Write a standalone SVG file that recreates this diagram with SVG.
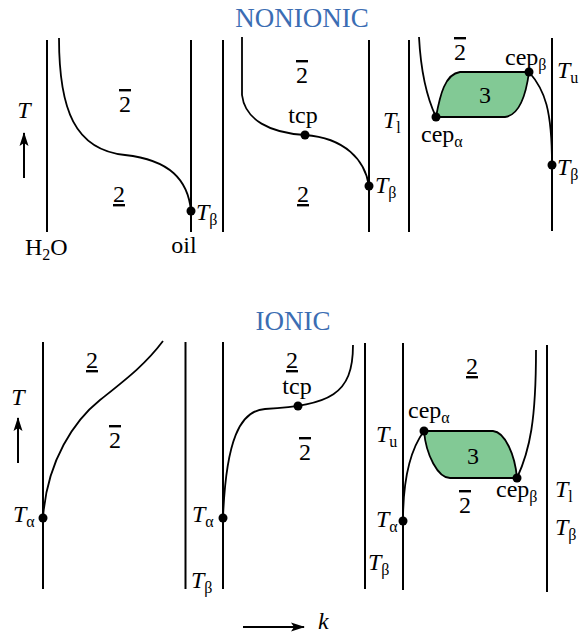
<svg xmlns="http://www.w3.org/2000/svg" width="580" height="634" viewBox="0 0 580 634">
<defs>
<marker id="ah" markerUnits="userSpaceOnUse" markerWidth="14" markerHeight="10" viewBox="0 0 14 10" refX="13" refY="5" orient="auto">
<path d="M0,0.5 L14,5 L0,9.5 L3,5 Z" fill="#000"/>
</marker>
</defs>
<style>
.ax{stroke:#000;stroke-width:2;fill:none}
.cv{stroke:#000;stroke-width:1.8;fill:none}
.ph{fill:#82c995;stroke:#000;stroke-width:1.8}
.dot{fill:#000}
text{font-size:24px;fill:#000}
.it{font-style:italic}
.sb{font-style:normal;font-size:16px}
.mid{text-anchor:middle}
.ov{text-decoration:overline}
.un{text-decoration:underline}
.ttl{font-size:27px;fill:#3b6db3;text-anchor:middle}
</style>
<g font-family="'Liberation Serif', 'DejaVu Serif', serif">
<text class="ttl" x="302" y="27">NONIONIC</text>
<text class="ttl" x="293" y="330">IONIC</text>

<g id="axis-T-top">
<line class="ax" x1="24" y1="178" x2="24" y2="133" stroke-width="1.6" marker-end="url(#ah)"/>
<text class="it mid" x="24" y="118">T</text>
</g>
<g id="axis-T-bottom">
<line class="ax" x1="18" y1="463" x2="18" y2="418" stroke-width="1.6" marker-end="url(#ah)"/>
<text class="it mid" x="18" y="405">T</text>
</g>
<g id="axis-k">
<line class="ax" x1="243" y1="627" x2="304" y2="627" stroke-width="1.6" marker-end="url(#ah)"/>
<text class="it" x="318" y="629">k</text>
</g>

<g id="top-panel-1">
<line class="ax" x1="47" y1="40" x2="47" y2="232"/>
<line class="ax" x1="191" y1="40" x2="191" y2="232"/>
<path class="cv" d="M59,38 C59,110 75,150 125,155 C170,160 188,180 191,211"/>
<circle class="dot" cx="191" cy="211" r="4.5"/>
<text class="mid ov" x="125" y="112">2</text>
<text class="mid un" x="119" y="202">2</text>
<text x="25" y="255">H<tspan class="sb" dy="5">2</tspan><tspan dy="-5">O</tspan></text>
<text class="mid" x="184" y="253">oil</text>
<text class="it" x="196" y="220">T<tspan class="sb" dy="5">β</tspan></text>
</g>

<g id="top-panel-2">
<line class="ax" x1="223" y1="40" x2="223" y2="232"/>
<line class="ax" x1="369" y1="40" x2="369" y2="232"/>
<path class="cv" d="M242,37 L242,95 C245,120 270,133 305,135 C345,138 365,160 369,186"/>
<circle class="dot" cx="305" cy="135" r="4.5"/>
<circle class="dot" cx="369" cy="186" r="4.5"/>
<text class="mid ov" x="302" y="83">2</text>
<text class="mid" x="303" y="123">tcp</text>
<text class="mid un" x="303" y="202">2</text>
<text class="it" x="383" y="128">T<tspan class="sb" dy="5">l</tspan></text>
<text class="it" x="375" y="193">T<tspan class="sb" dy="5">β</tspan></text>
</g>

<g id="top-panel-3">
<line class="ax" x1="409" y1="40" x2="409" y2="232"/>
<line class="ax" x1="552" y1="38" x2="552" y2="231"/>
<path class="cv" d="M419,37 C421,75 428,100 436,117"/>
<path class="ph" d="M436,117 C440,95 445,74 460,72 L529,72 C526,95 520,115 505,117 Z"/>
<path class="cv" d="M529,72 C545,90 552,110 552,165"/>
<circle class="dot" cx="436" cy="117" r="4.5"/>
<circle class="dot" cx="529" cy="72" r="4.5"/>
<circle class="dot" cx="552" cy="165" r="4.5"/>
<text class="mid ov" x="460" y="60">2</text>
<text class="mid" x="485" y="103">3</text>
<text x="421" y="142">cep<tspan class="sb" dy="5">α</tspan></text>
<text x="505" y="65">cep<tspan class="sb" dy="5">β</tspan></text>
<text class="it" x="557" y="78">T<tspan class="sb" dy="5">u</tspan></text>
<text class="it" x="557" y="175">T<tspan class="sb" dy="5">β</tspan></text>
</g>

<g id="bottom-panel-1">
<line class="ax" x1="43" y1="342" x2="43" y2="589"/>
<line class="ax" x1="185.5" y1="342" x2="185.5" y2="589"/>
<path class="cv" d="M43,518 C47,460 75,420 100,400 C125,380 145,365 163,341"/>
<circle class="dot" cx="43" cy="518" r="4.5"/>
<text class="mid un" x="92" y="368">2</text>
<text class="mid ov" x="115" y="448">2</text>
<text class="it" x="13" y="522">T<tspan class="sb" dy="5">α</tspan></text>
</g>

<g id="bottom-panel-2">
<line class="ax" x1="223" y1="342" x2="223" y2="589"/>
<line class="ax" x1="365" y1="343" x2="365" y2="589"/>
<path class="cv" d="M223,518 C226,440 240,410.5 265,409 C330,405 353,395 353,345"/>
<circle class="dot" cx="223" cy="518" r="4.5"/>
<circle class="dot" cx="298" cy="406" r="4.5"/>
<text class="mid un" x="292" y="368">2</text>
<text class="mid" x="297" y="394">tcp</text>
<text class="mid ov" x="305" y="460">2</text>
<text class="it" x="192" y="522">T<tspan class="sb" dy="5">α</tspan></text>
<text class="it" x="191" y="588">T<tspan class="sb" dy="5">β</tspan></text>
</g>

<g id="bottom-panel-3">
<line class="ax" x1="403" y1="343" x2="403" y2="590"/>
<line class="ax" x1="547" y1="345" x2="547" y2="592"/>
<path class="cv" d="M403,521 C403,480 410,450 424,431"/>
<path class="ph" d="M424,431 L493,431 C505,432 515,455 517,478 L450,478 C438,478 426,455 424,431 Z"/>
<path class="cv" d="M517,478 C530,450 536,420 536,350"/>
<circle class="dot" cx="403" cy="521" r="4.5"/>
<circle class="dot" cx="424" cy="431" r="4.5"/>
<circle class="dot" cx="517" cy="478" r="4.5"/>
<text class="mid un" x="472" y="374">2</text>
<text class="mid" x="473" y="464">3</text>
<text class="mid ov" x="465" y="513">2</text>
<text x="408" y="418">cep<tspan class="sb" dy="5">α</tspan></text>
<text x="496" y="497">cep<tspan class="sb" dy="5">β</tspan></text>
<text class="it" x="376" y="442">T<tspan class="sb" dy="5">u</tspan></text>
<text class="it" x="376" y="527">T<tspan class="sb" dy="5">α</tspan></text>
<text class="it" x="368" y="570">T<tspan class="sb" dy="5">β</tspan></text>
<text class="it" x="555" y="497">T<tspan class="sb" dy="5">l</tspan></text>
<text class="it" x="555" y="535">T<tspan class="sb" dy="5">β</tspan></text>
</g>
</g>
</svg>
